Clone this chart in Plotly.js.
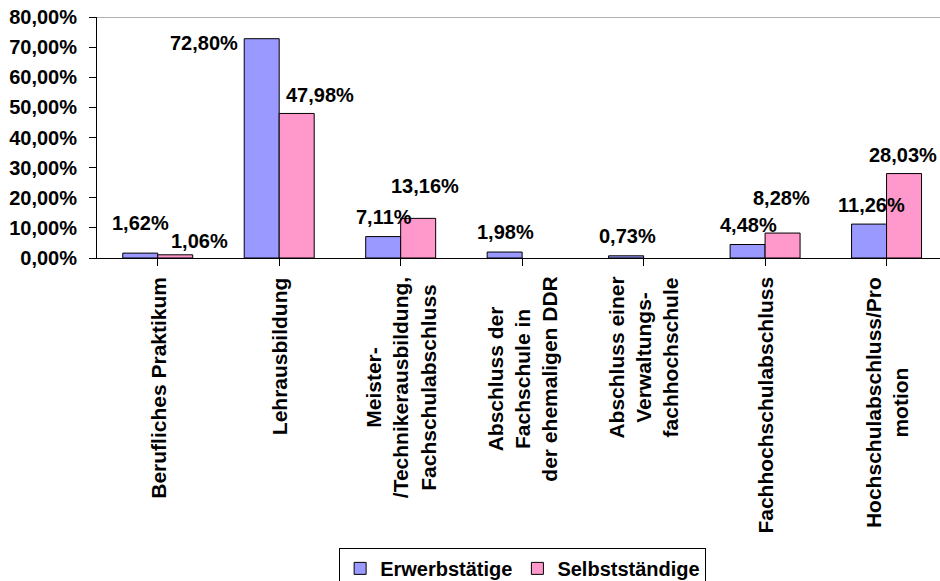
<!DOCTYPE html>
<html>
<head>
<meta charset="utf-8">
<script src="https://cdn.plot.ly/plotly-3.0.1.min.js"></script>
<style>
  html, body { margin: 0; padding: 0; background: #fff; overflow: hidden; }
  #chart { width: 940px; height: 581px; }
</style>
</head>
<body>
<div id="chart"></div>
<script>
// Berufliche Abschlüsse: Erwerbstätige vs. Selbstständige (Anteile in %)
const categoryLabels = [
  'Berufliches Praktikum',
  'Lehrausbildung',
  'Meister-<br>/Technikerausbildung,<br>Fachschulabschluss',
  'Abschluss der<br>Fachschule in<br>der ehemaligen DDR',
  'Abschluss einer<br>Verwaltungs-<br>fachhochschule',
  'Fachhochschulabschluss',
  'Hochschulabschluss/Pro<br>motion'
];
const seriesNames = ['Erwerbstätige', 'Selbstständige'];
const erwerbstaetige = [1.62, 72.80, 7.11, 1.98, 0.73, 4.48, 11.26];
const selbststaendige = [1.06, 47.98, 13.16, null, null, 8.28, 28.03];
const yTickValues = [0, 10, 20, 30, 40, 50, 60, 70, 80];

// label placement nudges in pixels (relative to bar centre / bar top)
const labelShiftX = [
  [0, -58, 1, 1, 1, 1, 2],
  [24, 23, 7, 0, 0, -1, -1]
];
const labelShiftY = [
  [30, -4, 20, 20, 20, 20, 19],
  [14, 18, 32, 0, 0, 35, 19]
];

const FONT = 'Liberation Sans, Arial, Helvetica, sans-serif';
const colors = ['#9999FF', '#FF99CC'];
const idx = categoryLabels.map((_, i) => i);
const series = [erwerbstaetige, selbststaendige];

const fmt = v => v.toFixed(2).replace('.', ',') + '%';

const traces = series.map((vals, s) => ({
  type: 'bar',
  name: '<b>' + seriesNames[s] + '</b>',
  x: idx,
  y: vals,
  marker: { color: colors[s], line: { color: '#000', width: 1 } },
  hoverinfo: 'skip'
}));

const annotations = [];

// value labels
series.forEach((vals, s) => {
  const barOffset = s === 0 ? -17.5 : 17.5;
  vals.forEach((v, i) => {
    if (v === null) return;
    annotations.push({
      x: i, y: v, xref: 'x', yref: 'y',
      text: '<b>' + fmt(v) + '</b>', showarrow: false,
      xanchor: 'center', yanchor: 'middle',
      xshift: barOffset + labelShiftX[s][i],
      yshift: labelShiftY[s][i],
      font: { family: FONT, size: 20, color: '#000' }
    });
  });
});

// rotated category labels below the axis
categoryLabels.forEach((t, i) => {
  annotations.push({
    x: i, y: 0, xref: 'x', yref: 'paper',
    text: '<b>' + t + '</b>', showarrow: false, textangle: -90,
    align: 'center', xanchor: 'center', yanchor: 'top',
    yshift: -17,
    font: { family: FONT, size: 21, color: '#000' }
  });
});

const layout = {
  width: 940, height: 581,
  margin: { l: 97, r: 0, t: 17, b: 323, autoexpand: false },
  paper_bgcolor: '#fff', plot_bgcolor: '#fff',
  barmode: 'group', bargap: 0.424, bargroupgap: 0,
  showlegend: true,
  font: { family: FONT, size: 20, color: '#000' },
  xaxis: {
    range: [-0.5, 6.44], tickvals: idx, showticklabels: false,
    tickson: 'boundaries', ticks: 'outside', ticklen: 7, tickcolor: '#000',
    showline: true, linecolor: '#000', linewidth: 1,
    showgrid: false, zeroline: false, fixedrange: true
  },
  yaxis: {
    range: [0, 80], tickmode: 'array', tickvals: yTickValues,
    ticktext: yTickValues.map(v => '<b>' + fmt(v) + '</b>'),
    ticks: 'outside', ticklen: 7, tickcolor: '#000', ticklabelstandoff: 8,
    showline: true, linecolor: '#000', linewidth: 1,
    showgrid: false, zeroline: false, fixedrange: true,
    tickfont: { family: FONT, size: 20, color: '#000' }
  },
  shapes: [{
    type: 'line', xref: 'paper', yref: 'y', x0: 0, x1: 1, y0: 80, y1: 80,
    line: { color: '#999', width: 1.5 }
  }],
  legend: {
    orientation: 'h', xref: 'container', yref: 'container',
    x: 0.556, xanchor: 'center', y: 0.057, yanchor: 'top',
    bgcolor: '#fff', bordercolor: '#000', borderwidth: 1,
    itemwidth: 30, tracegroupgap: 0,
    font: { family: FONT, size: 20, color: '#000' }
  },
  annotations: annotations
};

Plotly.newPlot('chart', traces, layout, { staticPlot: true, displayModeBar: false });
</script>
</body>
</html>
